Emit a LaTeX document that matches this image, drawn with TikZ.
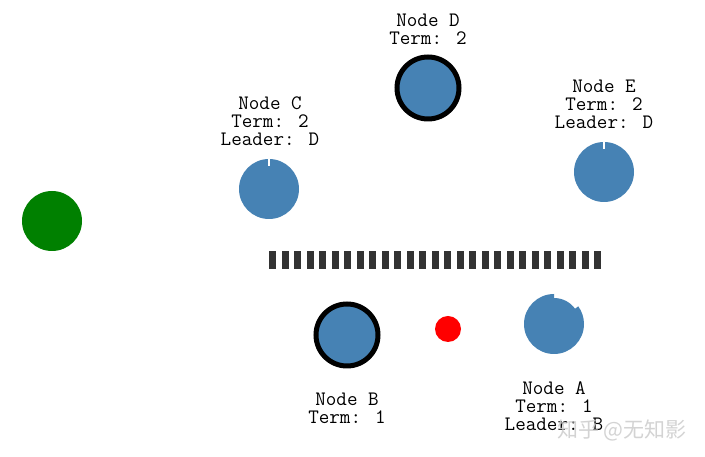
\documentclass[tikz,border=0pt]{standalone}
\usepackage{fontspec}
\usetikzlibrary{calc}
\newfontfamily\cjk{Noto Sans CJK SC}
\definecolor{nodeblue}{HTML}{4682B4}
\definecolor{bargray}{HTML}{333333}
\begin{document}
\begin{tikzpicture}[x=1pt,y=1pt,
  srv/.style={circle,fill=nodeblue,minimum size=60pt,inner sep=0pt},
  leadsrv/.style={circle,fill=nodeblue,draw=black,line width=5pt,minimum size=62pt,inner sep=0pt},
  lbl/.style={align=center,inner sep=0pt,font=\ttfamily\fontsize{20.5}{18}\selectfont},
  tick/.style={white,line width=1.5pt}]
\useasboundingbox[fill=white] (0,0) rectangle (705,457);
% client and request
\node[circle,fill=green!50!black,minimum size=60pt,inner sep=0pt] (client) at (52,236) {};
\node[circle,fill=red,minimum size=26pt,inner sep=0pt] (msg) at (448,128) {};
% servers
\node[srv] (C) at (269,268) {};
\draw[tick] (C.north) -- ++(0,-7);
\node[leadsrv] (D) at (428,369) {};
\node[srv] (E) at (604,285) {};
\draw[tick] (E.north) -- ++(0,-7);
\node[leadsrv] (B) at (347,122) {};
\coordinate (A) at (554,133);
\fill[nodeblue] (A) ++(90:30) arc[start angle=90,end angle=396,radius=30] -- ($(A)+(36:26)$) arc[start angle=36,end angle=90,radius=26] -- cycle;
% partition barrier
\foreach \i in {0,...,26} {
  \fill[bargray] (269+\i*12.5,188) rectangle ++(7,18);
}
% labels
\node[lbl] (Dl) at (428,428) {Node D\\Term: 2};
\node[lbl] (Cl) at (270,336) {Node C\\Term: 2\\Leader: D};
\node[lbl] (El) at (604,353) {Node E\\Term: 2\\Leader: D};
\node[lbl] (Bl) at (347,49) {Node B\\Term: 1};
\node[lbl] (Al) at (554,51) {Node A\\Term: 1\\Leader: B};
\node[font=\cjk\fontsize{21}{21}\selectfont,text=gray!40,opacity=0.85,anchor=west,inner sep=0pt] (wm) at (557,27) {知乎 @无知影};
\end{tikzpicture}
\end{document}
